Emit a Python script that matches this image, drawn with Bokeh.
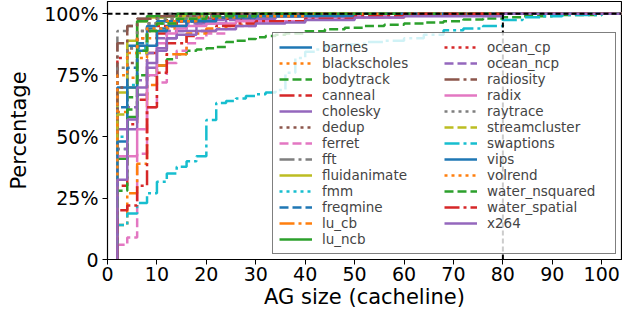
from bokeh.plotting import figure
from bokeh.models import Range1d, FixedTicker, Span, Legend, LegendItem
from bokeh.embed import file_html
from bokeh.resources import INLINE

# ---- data: CDF of AG sizes (x = AG size in cachelines, y = cumulative fraction) ----
barnes_x = [2, 4, 8, 10, 18, 24, 40, 104]
barnes_y = [0.70, 0.87, 0.95, 0.97, 0.98, 0.99, 1.0, 1.0]
blackscholes_x = [2, 4, 6, 8, 10, 14, 20, 30, 104]
blackscholes_y = [0.60, 0.74, 0.82, 0.90, 0.94, 0.97, 0.99, 1.0, 1.0]
bodytrack_x = [2, 4, 6, 10, 12, 14, 16, 18, 20, 22, 24, 26, 28, 30, 32, 34, 36, 40,
               44, 48, 52, 56, 60, 64, 68, 72, 76, 80, 84, 90, 100, 104]
bodytrack_y = [0.45, 0.66, 0.75, 0.79, 0.815, 0.835, 0.85, 0.855, 0.86, 0.865, 0.885,
               0.89, 0.897, 0.905, 0.91, 0.915, 0.92, 0.929, 0.937, 0.943, 0.95,
               0.955, 0.96, 0.965, 0.97, 0.977, 0.981, 0.986, 0.99, 0.995, 1.0, 1.0]
canneal_x = [2, 4, 6, 8, 10, 12, 16, 20, 30, 40, 104]
canneal_y = [0.30, 0.55, 0.65, 0.84, 0.92, 0.95, 0.97, 0.985, 0.995, 1.0, 1.0]
cholesky_x = [2, 6, 8, 10, 12, 14, 18, 24, 34, 50, 104]
cholesky_y = [0.53, 0.67, 0.78, 0.85, 0.90, 0.93, 0.96, 0.98, 0.99, 1.0, 1.0]
dedup_x = [2, 4, 6, 8, 12, 20, 30, 104]
dedup_y = [0.70, 0.80, 0.93, 0.96, 0.98, 0.99, 1.0, 1.0]
ferret_x = [2, 4, 6, 8, 10, 12, 14, 16, 18, 20, 24, 30, 40, 60, 104]
ferret_y = [0.06, 0.09, 0.43, 0.62, 0.72, 0.80, 0.85, 0.88, 0.90, 0.92, 0.95, 0.97,
            0.99, 1.0, 1.0]
fft_x = [2, 4, 6, 8, 12, 104]
fft_y = [0.93, 0.95, 0.98, 0.99, 1.0, 1.0]
fluidanimate_x = [2, 4, 6, 8, 12, 20, 104]
fluidanimate_y = [0.68, 0.89, 0.97, 0.985, 0.99, 1.0, 1.0]
fmm_x = [2, 4, 6, 8, 10, 14, 20, 30, 104]
fmm_y = [0.50, 0.71, 0.86, 0.93, 0.96, 0.98, 0.99, 1.0, 1.0]
freqmine_x = [2, 4, 6, 8, 12, 20, 30, 104]
freqmine_y = [0.62, 0.78, 0.88, 0.94, 0.97, 0.99, 1.0, 1.0]
lu_cb_x = [2, 4, 6, 8, 10, 12, 16, 20, 24, 30, 40, 60, 104]
lu_cb_y = [0.14, 0.27, 0.39, 0.71, 0.79, 0.835, 0.92, 0.94, 0.955, 0.97, 0.985,
           1.0, 1.0]
lu_ncb_x = [2, 4, 6, 8, 14, 104]
lu_ncb_y = [0.41, 0.58, 0.97, 0.99, 1.0, 1.0]
ocean_cp_x = [2, 4, 6, 8, 10, 14, 20, 30, 50, 104]
ocean_cp_y = [0.82, 0.86, 0.90, 0.93, 0.95, 0.97, 0.98, 0.99, 1.0, 1.0]
ocean_ncp_x = [2, 4, 6, 8, 10, 12, 16, 20, 30, 50, 104]
ocean_ncp_y = [0.45, 0.62, 0.73, 0.84, 0.90, 0.93, 0.96, 0.975, 0.99, 1.0, 1.0]
radiosity_x = [2, 4, 6, 10, 20, 104]
radiosity_y = [0.88, 0.95, 0.98, 0.99, 1.0, 1.0]
radix_x = [2, 6, 8, 10, 12, 14, 16, 20, 26, 40, 60, 104]
radix_y = [0.42, 0.53, 0.75, 0.88, 0.92, 0.94, 0.95, 0.96, 0.97, 0.985, 1.0, 1.0]
raytrace_x = [2, 4, 6, 8, 10, 16, 24, 104]
raytrace_y = [0.78, 0.86, 0.93, 0.96, 0.98, 0.99, 1.0, 1.0]
streamcluster_x = [2, 4, 6, 8, 10, 14, 20, 30, 104]
streamcluster_y = [0.59, 0.70, 0.84, 0.93, 0.96, 0.98, 0.99, 1.0, 1.0]
swaptions_x = [2, 4, 6, 8, 10, 12, 14, 16, 18, 20, 22, 24, 26, 28, 30, 32, 34, 36, 38,
               40, 42, 44, 48, 52, 56, 60, 64, 68, 72, 76, 80, 84, 88, 92, 100, 104]
swaptions_y = [0.14, 0.187, 0.23, 0.27, 0.316, 0.35, 0.377, 0.40, 0.42, 0.568, 0.637,
               0.645, 0.655, 0.665, 0.673, 0.68, 0.69, 0.76, 0.82, 0.845, 0.855, 0.868,
               0.875, 0.885, 0.89, 0.90, 0.915, 0.933, 0.94, 0.95, 0.975, 0.986, 0.99,
               0.995, 1.0, 1.0]
vips_x = [2, 4, 6, 8, 10, 12, 16, 22, 30, 50, 104]
vips_y = [0.48, 0.70, 0.85, 0.87, 0.93, 0.95, 0.97, 0.985, 0.99, 1.0, 1.0]
volrend_x = [2, 4, 6, 8, 12, 18, 26, 40, 104]
volrend_y = [0.75, 0.84, 0.90, 0.94, 0.97, 0.985, 0.99, 1.0, 1.0]
water_nsquared_x = [2, 4, 6, 8, 10, 14, 20, 30, 104]
water_nsquared_y = [0.28, 0.61, 0.85, 0.93, 0.96, 0.98, 0.99, 1.0, 1.0]
water_spatial_x = [2, 4, 6, 8, 10, 12, 16, 18, 22, 26, 30, 40, 50, 60, 104]
water_spatial_y = [0.20, 0.22, 0.30, 0.62, 0.76, 0.88, 0.91, 0.93, 0.95, 0.96, 0.97,
                   0.98, 0.99, 1.0, 1.0]
x264_x = [2, 4, 6, 8, 10, 12, 14, 18, 22, 26, 30, 36, 40, 50, 60, 80, 104]
x264_y = [0.325, 0.57, 0.70, 0.80, 0.86, 0.90, 0.915, 0.93, 0.937, 0.95, 0.96, 0.965,
          0.975, 0.985, 0.99, 1.0, 1.0]

names = ["barnes", "blackscholes", "bodytrack", "canneal", "cholesky", "dedup",
         "ferret", "fft", "fluidanimate", "fmm", "freqmine", "lu_cb", "lu_ncb",
         "ocean_cp", "ocean_ncp", "radiosity", "radix", "raytrace", "streamcluster",
         "swaptions", "vips", "volrend", "water_nsquared", "water_spatial", "x264"]
series = [
    (barnes_x, barnes_y), (blackscholes_x, blackscholes_y), (bodytrack_x, bodytrack_y),
    (canneal_x, canneal_y), (cholesky_x, cholesky_y), (dedup_x, dedup_y),
    (ferret_x, ferret_y), (fft_x, fft_y), (fluidanimate_x, fluidanimate_y),
    (fmm_x, fmm_y), (freqmine_x, freqmine_y), (lu_cb_x, lu_cb_y),
    (lu_ncb_x, lu_ncb_y), (ocean_cp_x, ocean_cp_y), (ocean_ncp_x, ocean_ncp_y),
    (radiosity_x, radiosity_y), (radix_x, radix_y), (raytrace_x, raytrace_y),
    (streamcluster_x, streamcluster_y), (swaptions_x, swaptions_y),
    (vips_x, vips_y), (volrend_x, volrend_y), (water_nsquared_x, water_nsquared_y),
    (water_spatial_x, water_spatial_y), (x264_x, x264_y)]

x_ticks = [0, 10, 20, 30, 40, 50, 60, 70, 80, 90, 100]
y_ticks = [0, 0.25, 0.5, 0.75, 1.0]
y_tick_labels = ["0", "25%", "50%", "75%", "100%"]
ref_x = 80
ref_y = 1.0

# ---- styling ----
colors = ["#1f77b4", "#ff7f0e", "#2ca02c", "#d62728", "#9467bd",
          "#8c564b", "#e377c2", "#7f7f7f", "#bcbd22", "#17becf"]
dashes = ["solid", "3 4", "9 4", "15 4 3 4"]
FONT = "DejaVu Sans"

p = figure(width=622, height=311, output_backend="svg", toolbar_location=None,
           x_range=Range1d(0, 104), y_range=Range1d(0, 1.05),
           min_border_left=107, min_border_right=1, min_border_top=1,
           min_border_bottom=0)
p.xgrid.visible = False
p.ygrid.visible = False
p.outline_line_color = "black"
p.outline_line_width = 1.2
p.outline_line_alpha = 1.0
p.background_fill_color = "white"

for ax in (p.xaxis[0], p.yaxis[0]):
    ax.axis_line_color = "black"
    ax.major_tick_line_color = "black"
    ax.major_tick_out = 5
    ax.major_tick_in = 0
    ax.minor_tick_line_color = None
    ax.major_label_text_font = FONT
    ax.major_label_text_font_size = "19px"
    ax.major_label_text_color = "black"
    ax.axis_label_text_font = FONT
    ax.axis_label_text_font_size = "21px"
    ax.axis_label_text_font_style = "normal"
    ax.axis_label_text_color = "black"

p.xaxis.ticker = FixedTicker(ticks=x_ticks)
p.yaxis.ticker = FixedTicker(ticks=y_ticks)
p.yaxis.major_label_overrides = {t: s for t, s in zip(y_ticks, y_tick_labels)}
p.xaxis.axis_label = "AG size (cacheline)"
p.yaxis.axis_label = "Percentage"
p.xaxis.major_label_standoff = 2
p.yaxis.major_label_standoff = 4
p.xaxis.axis_label_standoff = 1
p.yaxis.axis_label_standoff = 10

items = []
for i, (name, (xs, ys)) in enumerate(zip(names, series)):
    sx = [xs[0]] + list(xs)
    sy = [0.0] + list(ys)
    r = p.step(sx, sy, mode="after", line_color=colors[i % 10],
               line_dash=dashes[i % 4], line_width=2.5)
    items.append(LegendItem(label=name, renderers=[r]))

p.add_layout(Span(location=ref_y, dimension="width", line_color="black",
                  line_dash="5 3", line_width=2))
p.line([ref_x, ref_x], [0, ref_y], line_color="black", line_dash="5 3", line_width=2)

legend = Legend(items=items, ncols=2, location="bottom_right",
                label_text_font=FONT, label_text_font_size="13.5px",
                glyph_width=33, glyph_height=12, label_height=12,
                label_width=122, label_standoff=10, spacing=0,
                padding=6, margin=5,
                border_line_color="black", border_line_width=1.2,
                background_fill_color="white", background_fill_alpha=0.8)
p.add_layout(legend, "center")

open("out.html", "w").write(file_html(p, INLINE))
